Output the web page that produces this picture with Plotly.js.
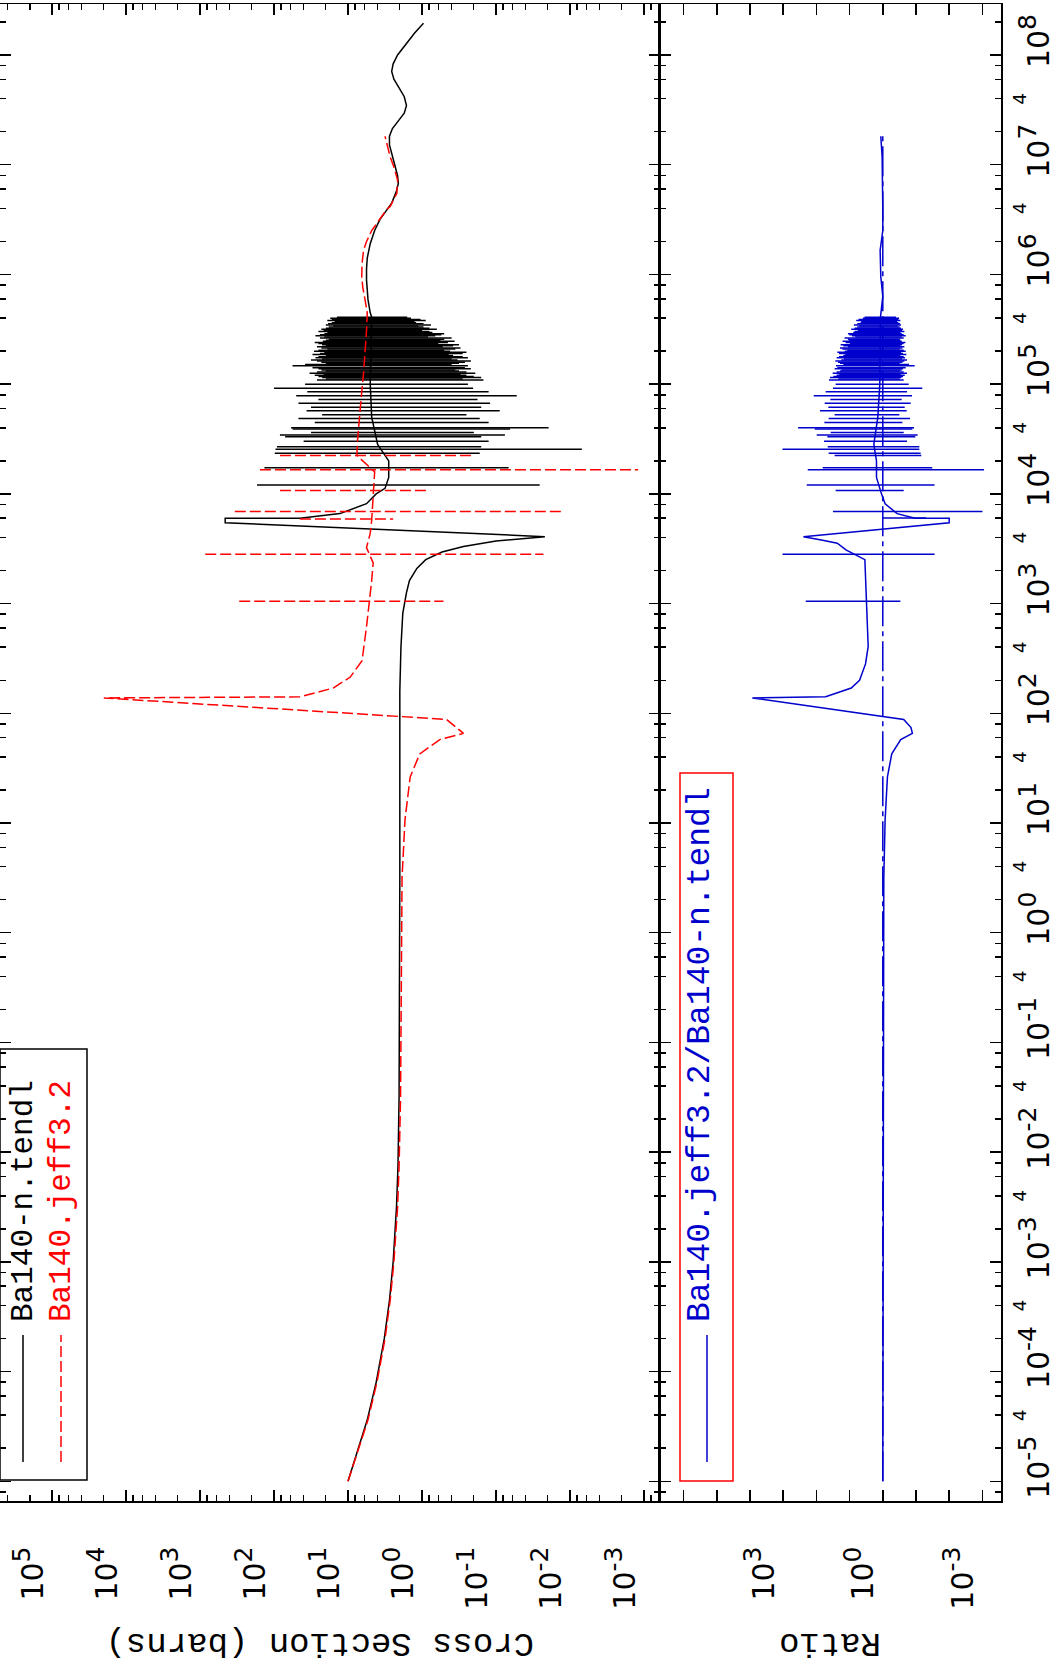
<!DOCTYPE html>
<html><head><meta charset="utf-8">
<script src="https://cdn.plot.ly/plotly-3.0.1.min.js"></script>
<style>
html,body{margin:0;padding:0;background:#fff;overflow:hidden;width:1064px;height:1667px;}
#chart{position:absolute;left:0;top:0;width:1667px;height:1064px;transform-origin:0 0;transform:translate(0px,1667px) rotate(-90deg);}
</style></head><body><div id="chart"></div>
<script>
// ---------- DATA (log10 of energy in eV ; log10 of cross section in barns, or of the ratio) ----------
// Ba140-n.tendl : continuous curve
const tendlLogE  = [-5.0,-4.7,-4.44,-4.1,-3.7,-3.35,-3.0,-2.5,-2.13,-1.5,-0.6,0.5,1.5,2.2,2.6,2.91,3.1,3.21,3.32,3.40,3.47,3.52,3.57,3.61,3.737,3.777,3.778,3.82,3.91,4.00,4.05,4.15,4.30,4.45,4.70,5.00,5.61,5.65,5.77,5.85,5.95,6.05,6.15,6.28,6.40,6.50,6.57,6.65,6.75,6.83,6.90,7.00,7.10,7.18,7.26,7.33,7.40,7.47,7.54,7.62,7.70,7.78,7.85,7.92,8.00,8.10,8.20,8.29];
const tendlLogXS = [1.00,0.86,0.74,0.62,0.51,0.44,0.39,0.345,0.325,0.31,0.302,0.30,0.30,0.30,0.285,0.26,0.21,0.17,0.07,-0.05,-0.27,-0.56,-1.0,-1.66,2.66,2.66,1.65,1.11,0.75,0.62,0.50,0.45,0.45,0.60,0.68,0.70,0.68,0.70,0.73,0.74,0.75,0.75,0.74,0.70,0.64,0.57,0.49,0.41,0.35,0.32,0.33,0.37,0.41,0.44,0.44,0.40,0.32,0.24,0.21,0.24,0.31,0.38,0.41,0.39,0.33,0.22,0.10,-0.02];
// Ba140-n.tendl : resonance strokes (energy, maximum, minimum)
const tendlResLogE = [4.080,4.238,4.369,4.406,4.430,4.48,4.521,4.536,4.56,4.591,4.603,4.65,4.688,4.72,4.758,4.79,4.825,4.86,4.894,4.93,4.962,5.00,
  5.037,5.06,5.08,5.10,5.12,5.14,5.168,5.18,5.20,5.22,5.24,5.26,5.28,5.30,5.32,5.34,5.36,5.38,5.40,5.42,5.44,5.46,5.48,5.50,5.52,5.54,5.56,5.58,5.60,
  5.048,5.07,5.09,5.11,5.13,5.15,5.19,5.21,5.23,5.25,5.27,5.29,5.31,5.33,5.35,5.37,5.39,5.41,5.43,5.45,5.47,5.49,5.51,5.53,5.55,5.57,5.59,5.61];
const tendlResHi = [2.23,2.13,1.99,1.98,1.96,1.60,1.85,1.92,1.50,1.75,1.77,1.45,1.67,1.35,1.56,1.50,1.67,1.40,1.70,1.55,2.00,1.58,
  1.42,1.35,1.45,1.52,1.30,1.40,1.75,1.58,1.36,1.50,1.44,1.30,1.38,1.46,1.28,1.42,1.35,1.45,1.30,1.38,1.44,1.32,1.40,1.36,1.26,1.30,1.22,1.28,1.24,
  1.30,1.40,1.33,1.42,1.36,1.48,1.30,1.42,1.35,1.40,1.48,1.32,1.40,1.36,1.30,1.40,1.34,1.26,1.32,1.38,1.28,1.33,1.30,1.20,1.27,1.18,1.22,1.15];
const tendlResLo = [-1.59,-1.17,-0.78,-2.16,-0.80,-0.90,-0.80,-1.12,-0.70,-1.19,-1.71,-0.90,-0.78,-0.60,-1.05,-0.80,-0.92,-0.75,-1.28,-0.90,-0.69,-0.62,
  -0.83,-0.80,-0.60,-0.72,-0.50,-0.66,-0.62,-0.40,-0.58,-0.48,-0.62,-0.42,-0.55,-0.38,-0.45,-0.28,-0.50,-0.35,-0.25,-0.40,-0.18,-0.30,-0.10,-0.20,-0.02,-0.12,0.08,-0.05,0.15,
  -0.55,-0.70,-0.52,-0.60,-0.45,-0.58,-0.50,-0.66,-0.40,-0.55,-0.36,-0.60,-0.30,-0.52,-0.42,-0.22,-0.44,-0.30,-0.08,-0.26,-0.14,0.00,-0.10,0.05,-0.02,0.10,0.02,0.20];

// Ba140.jeff3.2 : continuous curve
const jeffLogE  = [-5.0,-4.7,-4.44,-4.1,-3.7,-3.35,-3.0,-2.5,-2.13,-1.5,-0.6,0.5,1.03,1.42,1.63,1.76,1.817,1.944,2.14,2.15,2.23,2.33,2.48,2.79,3.21,3.37,3.51,3.64,3.76,4.20,4.35,4.50,4.89,5.10,5.49,5.65,5.77,5.88,5.98,6.10,6.22,6.30,6.40,6.50,6.59,6.62,6.74,6.86,6.98,7.07,7.13,7.26];
const jeffLogXS = [1.00,0.85,0.73,0.61,0.50,0.43,0.38,0.33,0.31,0.29,0.28,0.27,0.23,0.16,0.03,-0.24,-0.56,-0.33,4.30,1.65,1.20,0.97,0.81,0.75,0.68,0.66,0.75,0.70,0.68,0.64,0.88,0.87,0.82,0.79,0.75,0.74,0.77,0.80,0.815,0.81,0.79,0.75,0.68,0.58,0.48,0.43,0.34,0.33,0.38,0.43,0.45,0.50];
// Ba140.jeff3.2 : resonance strokes
const jeffResLogE = [3.02,3.45,3.77,3.84,4.03,4.22,4.35];
const jeffResHi   = [2.47,2.93,1.65,2.53,1.92,2.19,1.92];
const jeffResLo   = [-0.29,-1.64,0.39,-1.89,-0.11,-2.92,-0.69];

// Ratio Ba140.jeff3.2/Ba140-n.tendl : continuous curve
const ratioLogE = [-5.0,-3.0,-1.0,0.5,1.03,1.42,1.63,1.76,1.817,1.87,1.944,2.14,2.15,2.23,2.30,2.45,2.61,2.80,2.97,3.21,3.40,3.49,3.55,3.58,3.61,3.737,3.777,3.778,3.80,3.82,3.91,4.00,4.15,4.30,4.45,4.70,5.00,5.30,5.61,5.80,5.98,6.22,6.40,6.59,6.83,7.07,7.26];
const ratioLogR = [0.0,-0.01,-0.015,-0.03,-0.07,-0.14,-0.27,-0.54,-0.89,-0.85,-0.63,3.93,1.72,0.95,0.70,0.52,0.44,0.46,0.49,0.52,0.54,1.11,1.37,1.85,2.39,-2.0,-2.0,-0.97,-0.65,-0.43,-0.07,0.04,0.19,0.19,0.27,0.15,0.09,0.07,0.07,0.0,0.06,0.08,0.0,0.0,0.02,0.02,0.06];
// Ratio : resonance strokes
const ratioResLogE = [3.02,3.45,3.78,3.84,4.03,4.08,4.22,4.238,4.35,4.369,4.406,4.430,4.48,4.521,4.536,4.56,4.591,4.603,4.65,4.688,4.72,4.758,4.79,4.825,4.86,4.894,4.93,4.962,5.00,
  5.037,5.06,5.08,5.10,5.12,5.14,5.168,5.18,5.20,5.22,5.24,5.26,5.28,5.30,5.32,5.34,5.36,5.38,5.40,5.42,5.44,5.46,5.48,5.50,5.52,5.54,5.56,5.58,5.60,
  5.048,5.07,5.09,5.11,5.13,5.15,5.19,5.21,5.23,5.25,5.27,5.29,5.31,5.33,5.35,5.37,5.39,5.41,5.43,5.45,5.47,5.49,5.51,5.53,5.55,5.57,5.59,5.61];
const ratioResHi = [2.32,3.02,0.0,1.50,1.42,2.29,2.26,1.81,1.45,1.63,3.02,1.66,1.77,1.67,1.99,1.57,2.05,2.55,1.76,1.63,1.45,1.89,1.64,1.75,1.58,2.08,1.72,1.50,1.42,
  1.62,1.59,1.39,1.51,1.29,1.45,1.41,1.19,1.35,1.25,1.39,1.19,1.32,1.15,1.22,1.05,1.27,1.12,1.02,1.15,0.93,1.05,0.85,0.95,0.77,0.87,0.67,0.80,0.60,
  1.34,1.49,1.31,1.39,1.24,1.37,1.29,1.43,1.17,1.32,1.13,1.37,1.07,1.29,1.19,0.99,1.21,1.05,0.83,1.01,0.89,0.75,0.85,0.70,0.77,0.65,0.73,0.55];
const ratioResLo = [-0.53,-1.56,-1.30,-3.0,-0.63,-1.56,-3.05,-1.49,-1.16,-1.14,-1.10,-1.10,-0.73,-0.98,-1.05,-0.63,-0.89,-0.94,-0.59,-0.82,-0.50,-0.72,-0.66,-0.84,-0.57,-0.88,-0.73,-1.19,-0.78,
  -0.63,-0.56,-0.66,-0.73,-0.51,-0.61,-0.96,-0.79,-0.59,-0.73,-0.67,-0.53,-0.61,-0.69,-0.51,-0.65,-0.58,-0.68,-0.53,-0.63,-0.69,-0.57,-0.65,-0.61,-0.51,-0.55,-0.47,-0.53,-0.49,
  -0.51,-0.61,-0.54,-0.63,-0.57,-0.69,-0.51,-0.65,-0.58,-0.63,-0.71,-0.55,-0.63,-0.59,-0.53,-0.63,-0.57,-0.51,-0.57,-0.63,-0.53,-0.58,-0.55,-0.45,-0.52,-0.43,-0.47,-0.40];

// Axis tick labels
const energyExps = [-5,-4,-3,-2,-1,0,1,2,3,4,5,6,7,8];
const energyFourExps = [-5,-4,-3,-2,-1,0,1,2,3,4,5,6,7];
const xsExps = [-3,-2,-1,0,1,2,3,4,5];
const ratioLabelExps = [-3,0,3];
const ratioTickExps = [-2,-1,1,2,4,5,6];
const legendNames = ['Ba140-n.tendl','Ba140.jeff3.2','Ba140.jeff3.2/Ba140-n.tendl'];
const axisTitles = ['Cross Section (barns)','Ratio'];

// ---------- BUILD ----------
const pow = n => Math.pow(10,n);
const curve = (E,V) => ({x:E.map(pow), y:V.map(pow)});
function strokes(E,hi,lo){const x=[],y=[];E.forEach((e,i)=>{x.push(pow(e),pow(e),null);y.push(pow(hi[i]),pow(lo[i]),null);});return {x:x,y:y};}
const tC=curve(tendlLogE,tendlLogXS), tR=strokes(tendlResLogE,tendlResHi,tendlResLo);
const jC=curve(jeffLogE,jeffLogXS),   jR=strokes(jeffResLogE,jeffResHi,jeffResLo);
const rC=curve(ratioLogE,ratioLogR),  rR=strokes(ratioResLogE,ratioResHi,ratioResLo);

const BLUE='rgb(0,0,205)', RED='#ff0000';
const sup = n => '10<sup><span style="font-size:25px">'+(n<0?'-'+(-n):n)+'</span></sup>';
function minorVals(lo,hi){const v=[];for(let n=lo;n<=hi;n++){[2,4,6,8].forEach(m=>v.push(m*pow(n)));}return v;}

const TICKFONT={family:'DejaVu Sans',size:30,color:'#000'};
const MONO='Liberation Mono';
const L=166, PW=1497, PH=1001;
const px=X=>(X-L)/PW, py=Y=>(PH-Y)/PH;
const blackLine={color:'#000',width:1.5}, redLine={color:RED,width:1.5,dash:'11px,4px'}, blueLine={color:BLUE,width:1.5};

const traces=[
 {x:tC.x,y:tC.y,xaxis:'x',yaxis:'y',mode:'lines',line:blackLine,name:legendNames[0]},
 {x:tR.x,y:tR.y,xaxis:'x',yaxis:'y',mode:'lines',line:blackLine,connectgaps:false,name:legendNames[0]},
 {x:jC.x,y:jC.y,xaxis:'x',yaxis:'y',mode:'lines',line:redLine,name:legendNames[1]},
 {x:jR.x,y:jR.y,xaxis:'x',yaxis:'y',mode:'lines',line:redLine,connectgaps:false,name:legendNames[1]},
 {x:[pow(ratioLogE[0]),pow(ratioLogE[ratioLogE.length-1])],y:[1,1],xaxis:'x2',yaxis:'y2',mode:'lines',line:{color:BLUE,width:1.5,dash:'30px,5px,5px,5px'},name:'unity'},
 {x:rC.x,y:rC.y,xaxis:'x2',yaxis:'y2',mode:'lines',line:blueLine,name:legendNames[2]},
 {x:rR.x,y:rR.y,xaxis:'x2',yaxis:'y2',mode:'lines',line:blueLine,connectgaps:false,name:legendNames[2]},
 {x:[pow(-5),pow(8)],y:[1,1],xaxis:'x3',yaxis:'y2',mode:'lines',line:{color:'rgba(0,0,0,0)',width:0},hoverinfo:'skip',name:'axis-helper'}
];

const minorCommon={ticks:'inside',ticklen:6,tickwidth:1.5,tickcolor:'#000',tickmode:'array'};
const eAxisCommon={type:'log',range:[-5.18,8.465],showgrid:false,zeroline:false,showline:true,linecolor:'#000',linewidth:1.5,
  mirror:'ticks',ticks:'inside',ticklen:11,tickwidth:1.5,tickcolor:'#000',tickmode:'array',tickvals:energyExps.map(pow),
  minor:Object.assign({},minorCommon,{tickvals:minorVals(-6,8)})};

const layout={
 width:1667,height:1064,margin:{l:L,r:4,t:0,b:63},paper_bgcolor:'#fff',plot_bgcolor:'#fff',showlegend:false,
 xaxis:Object.assign({},eAxisCommon,{anchor:'y',showticklabels:false,domain:[0,1]}),
 xaxis2:Object.assign({},eAxisCommon,{anchor:'y2',domain:[0,1],ticktext:energyExps.map(sup),tickfont:TICKFONT,ticklabelstandoff:10,ticklabelshift:14}),
 xaxis3:{overlaying:'x2',anchor:'y2',type:'log',range:[-5.18,8.465],showgrid:false,zeroline:false,showline:false,ticks:'',
   tickmode:'array',tickvals:energyFourExps.map(n=>4*pow(n)),ticktext:energyFourExps.map(()=>'4'),
   tickfont:{family:'DejaVu Sans',size:18,color:'#000'},ticklabelstandoff:6},
 yaxis:{type:'log',range:[-3.216,5.703],domain:[0.34066,1],anchor:'x',showgrid:false,zeroline:false,showline:true,linecolor:'#000',linewidth:1.5,
   mirror:'ticks',ticks:'inside',ticklen:11,tickwidth:1.5,tickcolor:'#000',tickmode:'array',tickvals:xsExps.map(pow),ticktext:xsExps.map(sup),
   tickfont:TICKFONT,ticklabelstandoff:38,ticklabelshift:-20,
   minor:Object.assign({},minorCommon,{tickvals:minorVals(-4,5)})},
 yaxis2:{type:'log',range:[-3.56,6.71],domain:[0,0.34066],anchor:'x2',showgrid:false,zeroline:false,showline:true,linecolor:'#000',linewidth:1.5,
   mirror:'ticks',ticks:'inside',ticklen:11,tickwidth:1.5,tickcolor:'#000',tickmode:'array',tickvals:ratioLabelExps.map(pow),
   ticktext:ratioLabelExps.map(sup),tickfont:TICKFONT,ticklabelstandoff:38,ticklabelshift:-20,
   minor:{ticks:'inside',ticklen:11,tickwidth:1.5,tickcolor:'#000',tickmode:'array',tickvals:ratioTickExps.map(pow)}},
 shapes:[
  {type:'rect',xref:'paper',yref:'paper',x0:px(187),x1:px(618),y0:py(87),y1:py(0),line:{color:'#000',width:1.5},fillcolor:'rgba(0,0,0,0)'},
  {type:'line',xref:'paper',yref:'paper',x0:px(205),x1:px(332),y0:py(23),y1:py(23),line:{color:'#000',width:1.5}},
  {type:'line',xref:'paper',yref:'paper',x0:px(205),x1:px(332),y0:py(61),y1:py(61),line:{color:RED,width:1.5,dash:'11px,4px'}},
  {type:'rect',xref:'paper',yref:'paper',x0:px(186),x1:px(894),y0:py(733),y1:py(680),line:{color:RED,width:1.5},fillcolor:'rgba(0,0,0,0)'},
  {type:'line',xref:'paper',yref:'paper',x0:px(205),x1:px(332),y0:py(707),y1:py(707),line:{color:BLUE,width:1.5}}
 ],
 annotations:[
  {xref:'paper',yref:'paper',x:px(343),y:py(24),xanchor:'left',yanchor:'middle',showarrow:false,text:legendNames[0],font:{family:MONO,size:31,color:'#000'}},
  {xref:'paper',yref:'paper',x:px(343),y:py(61),xanchor:'left',yanchor:'middle',showarrow:false,text:legendNames[1],font:{family:MONO,size:31,color:RED}},
  {xref:'paper',yref:'paper',x:px(343),y:py(700),xanchor:'left',yanchor:'middle',showarrow:false,text:legendNames[2],font:{family:MONO,size:33,color:BLUE}},
  {xref:'paper',yref:'paper',x:px(24),y:py(320),xanchor:'center',yanchor:'middle',textangle:-90,showarrow:false,text:axisTitles[0],font:{family:MONO,size:34,color:'#000'}},
  {xref:'paper',yref:'paper',x:px(24),y:py(830),xanchor:'center',yanchor:'middle',textangle:-90,showarrow:false,text:axisTitles[1],font:{family:MONO,size:34,color:'#000'}}
 ]
};
Plotly.newPlot('chart',traces,layout,{staticPlot:true,displayModeBar:false});
</script></body></html>
